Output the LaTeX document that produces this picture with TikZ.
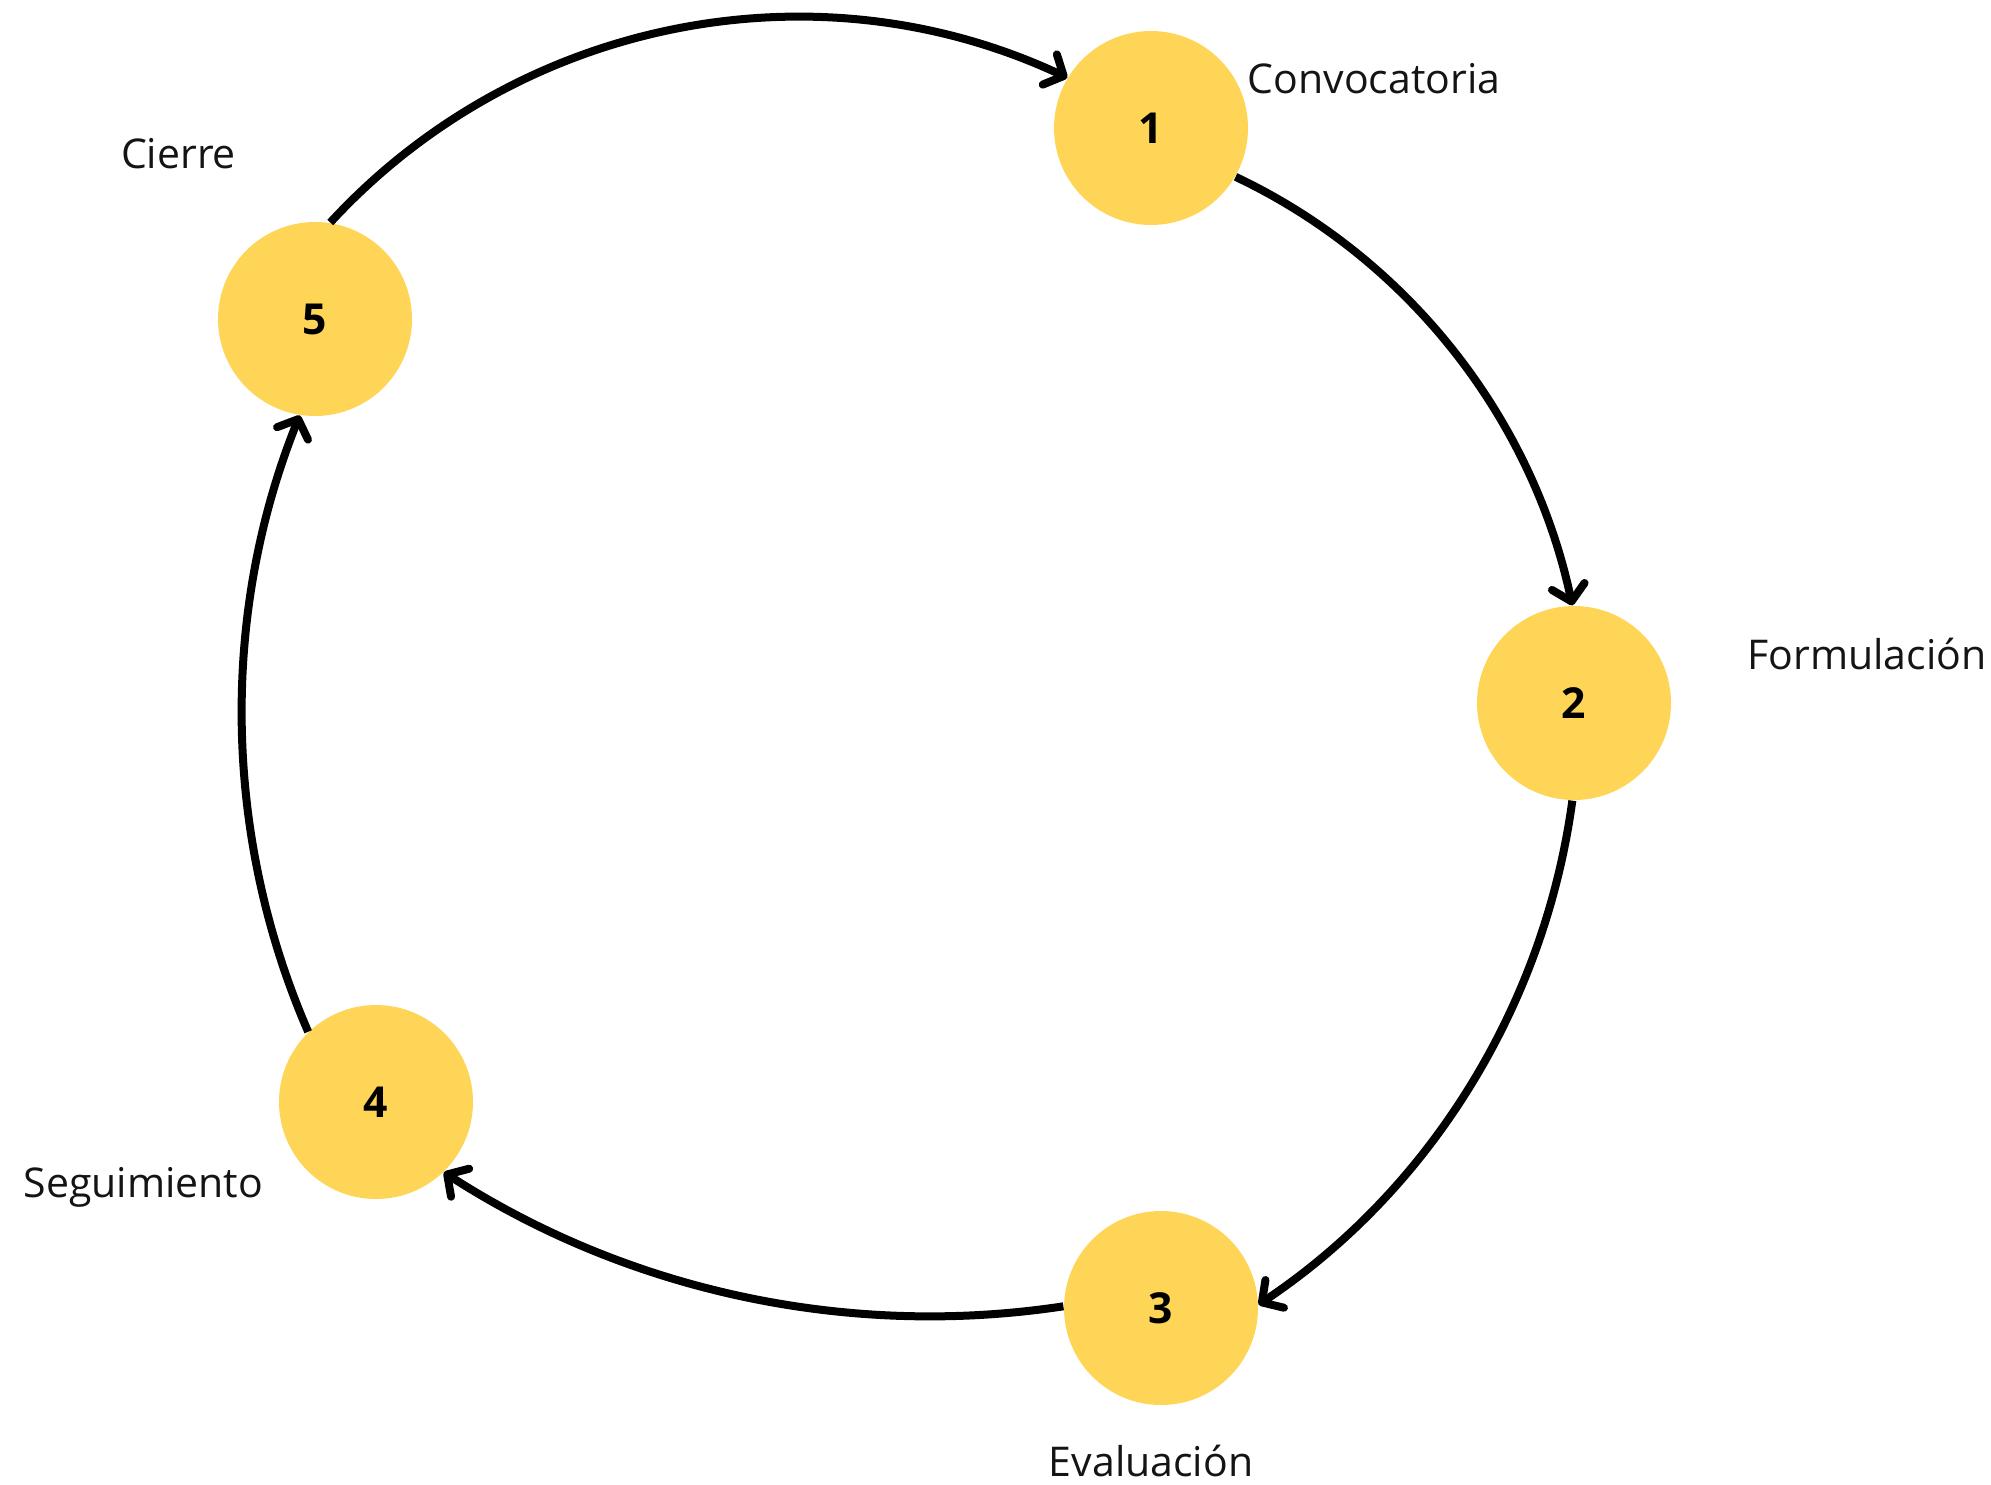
\documentclass[tikz,border=0pt]{standalone}
\usepackage{fontspec}
\setmainfont{Open Sans}
\usetikzlibrary{arrows.meta}
\definecolor{stepyellow}{HTML}{FFD558}
\tikzset{
  stepdot/.style={circle, fill=stepyellow, minimum size=58.2pt, inner sep=0pt,
                  font=\fontsize{12.8pt}{14pt}\selectfont\bfseries},
  steplabel/.style={inner sep=0pt, font=\fontsize{12.3pt}{14pt}\selectfont, text=black!92},
  flow/.style={line width=2.4pt, -{Straight Barb[length=4.6pt,width=10pt,line cap=round,round]}}
}
\begin{document}
\begin{tikzpicture}[x=0.3pt,y=-0.3pt]
\useasboundingbox (0,0) rectangle (1991,1484);
\node[stepdot] (c1) at (1151,128) {1};
\node[stepdot] (c2) at (1574,703) {2};
\node[stepdot] (c3) at (1161,1308) {3};
\node[stepdot] (c4) at (376,1102) {4};
\node[stepdot] (c5) at (315,319) {5};

\node[steplabel, anchor=base] (l1) at (1374,94) {Convocatoria};
\node[steplabel, anchor=base east] (l2) at (1987,669) {Formulación};
\node[steplabel, anchor=base] (l3) at (1151,1476) {Evaluación};
\node[steplabel, anchor=base] (l4) at (143.5,1197) {Seguimiento};
\node[steplabel, anchor=base] (l5) at (178.5,168) {Cierre};

\draw[flow] (c5.81) .. controls (518,18.6) and (816,-40) .. (c1.149);
\draw[flow] (c1.-30) .. controls (1407,258) and (1532,417) .. (c2.91);
\draw[flow] (c2.-91) .. controls (1544.5,1006) and (1430,1190) .. (c3.2);
\draw[flow] (c3.179) .. controls (848,1339) and (628,1291) .. (c4.-46);
\draw[flow] (c4.134) .. controls (223,836) and (220,614) .. (c5.-99);
\end{tikzpicture}
\end{document}
